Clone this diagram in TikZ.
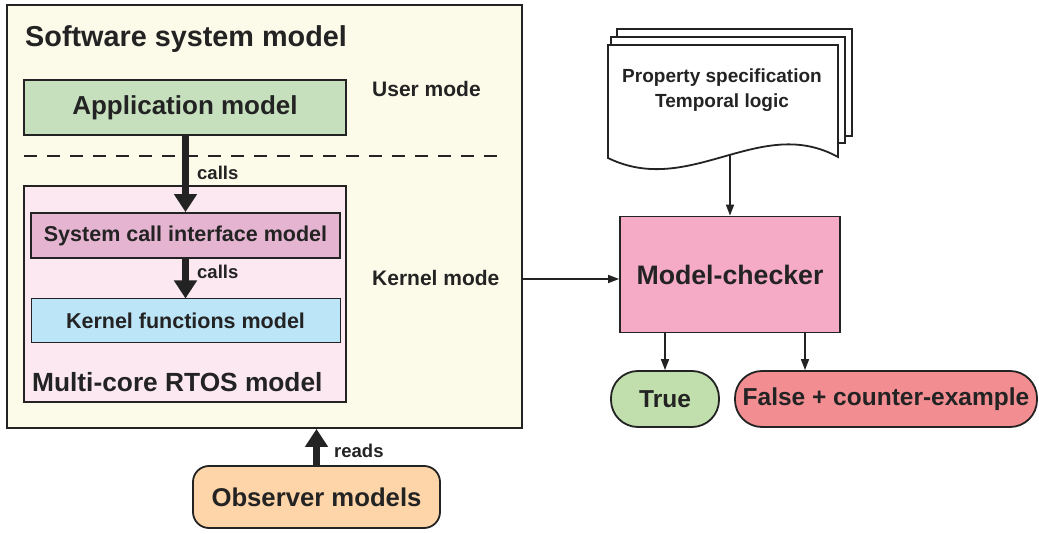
\documentclass[tikz,border=0pt]{standalone}
\usepackage{fontspec}
\setmainfont{Liberation Sans}
\usetikzlibrary{arrows.meta}

\definecolor{ink}{HTML}{232323}
\definecolor{cream}{HTML}{FCFAE8}
\definecolor{appgreen}{HTML}{C6E0BE}
\definecolor{rtospink}{HTML}{FBE8F1}
\definecolor{scipink}{HTML}{E4B4D0}
\definecolor{kfblue}{HTML}{BDE5F8}
\definecolor{mcpink}{HTML}{F5AAC5}
\definecolor{truegreen}{HTML}{C0DFAD}
\definecolor{falsered}{HTML}{F28E92}
\definecolor{obsorange}{HTML}{FDD5A8}

\newcommand{\fsz}[1]{\fontsize{#1}{#1}\selectfont\bfseries}

\tikzset{
  box/.style={draw=ink, line width=1.8pt, inner sep=0pt, text=ink},
  pill/.style={box, rounded corners=27pt},
  bigarrow/.style={ink, line width=7pt, -{Triangle[length=18pt,width=22pt]}},
  thinarrow/.style={ink, line width=1.6pt, -{Triangle[length=11pt,width=8pt]}},
  lbl/.style={text=ink, inner sep=0pt, anchor=base west}
}

\begin{document}
\begin{tikzpicture}[x=1pt, y=-1pt]
    \useasboundingbox[fill=white] (0,0) rectangle (1039,534);

    % software system
    \node[box, fill=cream, minimum width=515, minimum height=423] (sys) at (264.5,216.5) {};
    \node[lbl, font=\fsz{28.8}] (systitle) at (25,47) {Software system model};
    \node[box, fill=appgreen, minimum width=322, minimum height=55, font=\fsz{26}] (app) at (185,107.5) {Application model};
    \node[lbl, font=\fsz{21}] (umode) at (372,97) {User mode};
    \draw[ink, line width=1.5pt, dash pattern=on 13pt off 10pt] (24,156) -- (500,156);

    % rtos
    \node[box, fill=rtospink, minimum width=322, minimum height=216] (rtos) at (185,294) {};
    \node[lbl, font=\fsz{26.3}] (rtostitle) at (32,392) {Multi-core RTOS model};
    \node[box, fill=scipink, minimum width=309, minimum height=45, font=\fsz{21.5}] (sci) at (185.5,235.5) {System call interface model};
    \node[box, fill=kfblue, minimum width=309, minimum height=44, font=\fsz{21.5}, line width=1pt] (kf) at (185.5,321) {Kernel functions model};
    \node[lbl, font=\fsz{21}] (kmode) at (372,286) {Kernel mode};

    \draw[bigarrow] (app.south -| sci.north) -- (sci.north);
    \node[lbl, font=\fsz{18.5}] (calls1) at (197,180) {calls};
    \draw[bigarrow] (sci.south) -- (kf.north);
    \node[lbl, font=\fsz{18.5}] (calls2) at (197,279) {calls};

    % property document
    \filldraw[ink, fill=white, line width=1.8pt] (617,37) -- (617,29) -- (852,29) -- (852,136) -- (845,136);
    \filldraw[ink, fill=white, line width=1.8pt] (611,45) -- (611,37) -- (845,37) -- (845,143) -- (838,143);
    \filldraw[ink, fill=white, line width=1.8pt] (608,45) -- (838,45) -- (838,157)
        .. controls (760,114) and (690,198) .. (608,158) -- cycle;
    \node[align=center, text=ink, font=\fsz{19}, inner sep=0pt] (prop) at (722,90) {Property specification\\[6pt]Temporal logic};
    \coordinate (docbot) at (730,155);

    % checker
    \node[box, fill=mcpink, minimum width=220, minimum height=116, font=\fsz{26.7}] (mc) at (730,274.5) {Model-checker};
    \coordinate (kin) at (521,279);
    \draw[thinarrow] (kin) -- (kin -| mc.west);
    \draw[thinarrow] (docbot) -- (mc.north);

    \node[pill, fill=truegreen, minimum width=108, minimum height=56, font=\fsz{24.5}] (tru) at (665,399) {True};
    \node[pill, fill=falsered, minimum width=302, minimum height=56, font=\fsz{24.5}] (fls) at (886,399) {False + counter-example};
    \draw[thinarrow] (tru.north |- mc.south) -- (tru.north);
    \draw[thinarrow] ([xshift=75pt]mc.south) -- ([xshift=75pt]mc.south |- fls.north);

    % observers
    \node[box, fill=obsorange, rounded corners=16pt, minimum width=247, minimum height=62, font=\fsz{25.7}] (obs) at (316.5,497) {Observer models};
    \draw[bigarrow] (obs.north) -- (obs.north |- sys.south);
    \node[lbl, font=\fsz{18.5}] (reads) at (334,457) {reads};
\end{tikzpicture}
\end{document}
